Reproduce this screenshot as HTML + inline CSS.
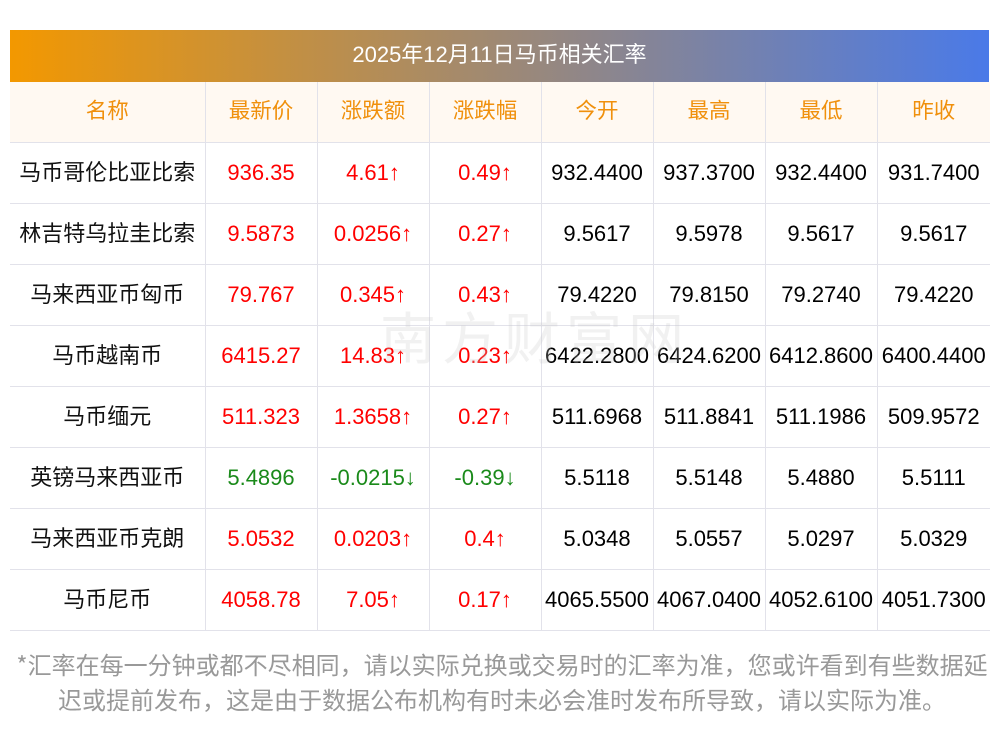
<!DOCTYPE html>
<html><head><meta charset="utf-8"><style>
body{margin:0;width:1000px;height:733px;background:#fff;font-family:"Liberation Sans","Noto Sans CJK SC",sans-serif;position:relative;overflow:hidden}
.title{position:absolute;left:10px;top:30px;width:979px;height:52px;background:linear-gradient(90deg,#f39800,#4a7ae8);color:#fff;font-size:22px;line-height:50px;text-align:center}
table{position:absolute;left:10px;top:82px;width:980px;border-collapse:collapse;table-layout:fixed}
td,th{border:1px solid #e2e2ea;text-align:center;font-size:22px;height:60px;padding:0;white-space:nowrap;font-weight:normal;line-height:24px}
td:first-child{font-family:"Noto Sans CJK SC",sans-serif;font-size:22px;color:#111;padding-bottom:5px;height:55px}
tr:first-child td{border-top:none}
td:first-child{border-left:none}td:last-child{border-right:none}
th{background:#fff9f2;color:#f0900c;border-top:none;font-family:"Noto Sans CJK SC",sans-serif;font-size:21.5px;padding-bottom:5px;height:55px}
th:first-child{border-left:none}th:last-child{border-right:none}
.r{color:#f00}.g{color:#1a8a1a}
.note{position:absolute;left:0;top:646px;width:1004px;font-size:24px;line-height:35px;color:#999;font-family:"Noto Sans CJK SC",sans-serif;text-align:center;white-space:nowrap}
.wm{position:absolute;left:380px;top:295px;font-size:56px;color:rgba(200,200,200,.25);letter-spacing:6px}
</style></head><body>
<div class="title">2025年12月11日马币相关汇率</div>
<table>
<colgroup><col style="width:195px"><col style="width:112px"><col style="width:112px"><col style="width:112px"><col style="width:112px"><col style="width:112px"><col style="width:112px"><col style="width:113px"></colgroup>
<tr><th>名称</th><th>最新价</th><th>涨跌额</th><th>涨跌幅</th><th>今开</th><th>最高</th><th>最低</th><th>昨收</th></tr>
<tr><td>马币哥伦比亚比索</td><td class="r">936.35</td><td class="r">4.61↑</td><td class="r">0.49↑</td><td>932.4400</td><td>937.3700</td><td>932.4400</td><td>931.7400</td></tr>
<tr><td>林吉特乌拉圭比索</td><td class="r">9.5873</td><td class="r">0.0256↑</td><td class="r">0.27↑</td><td>9.5617</td><td>9.5978</td><td>9.5617</td><td>9.5617</td></tr>
<tr><td>马来西亚币匈币</td><td class="r">79.767</td><td class="r">0.345↑</td><td class="r">0.43↑</td><td>79.4220</td><td>79.8150</td><td>79.2740</td><td>79.4220</td></tr>
<tr><td>马币越南币</td><td class="r">6415.27</td><td class="r">14.83↑</td><td class="r">0.23↑</td><td>6422.2800</td><td>6424.6200</td><td>6412.8600</td><td>6400.4400</td></tr>
<tr><td>马币缅元</td><td class="r">511.323</td><td class="r">1.3658↑</td><td class="r">0.27↑</td><td>511.6968</td><td>511.8841</td><td>511.1986</td><td>509.9572</td></tr>
<tr><td>英镑马来西亚币</td><td class="g">5.4896</td><td class="g">-0.0215↓</td><td class="g">-0.39↓</td><td>5.5118</td><td>5.5148</td><td>5.4880</td><td>5.5111</td></tr>
<tr><td>马来西亚币克朗</td><td class="r">5.0532</td><td class="r">0.0203↑</td><td class="r">0.4↑</td><td>5.0348</td><td>5.0557</td><td>5.0297</td><td>5.0329</td></tr>
<tr><td>马币尼币</td><td class="r">4058.78</td><td class="r">7.05↑</td><td class="r">0.17↑</td><td>4065.5500</td><td>4067.0400</td><td>4052.6100</td><td>4051.7300</td></tr>
</table>
<div class="wm">南方财富网</div>
<div class="note">*汇率在每一分钟或都不尽相同，请以实际兑换或交易时的汇率为准，您或许看到有些数据延<br>迟或提前发布，这是由于数据公布机构有时未必会准时发布所导致，请以实际为准。</div>
</body></html>
